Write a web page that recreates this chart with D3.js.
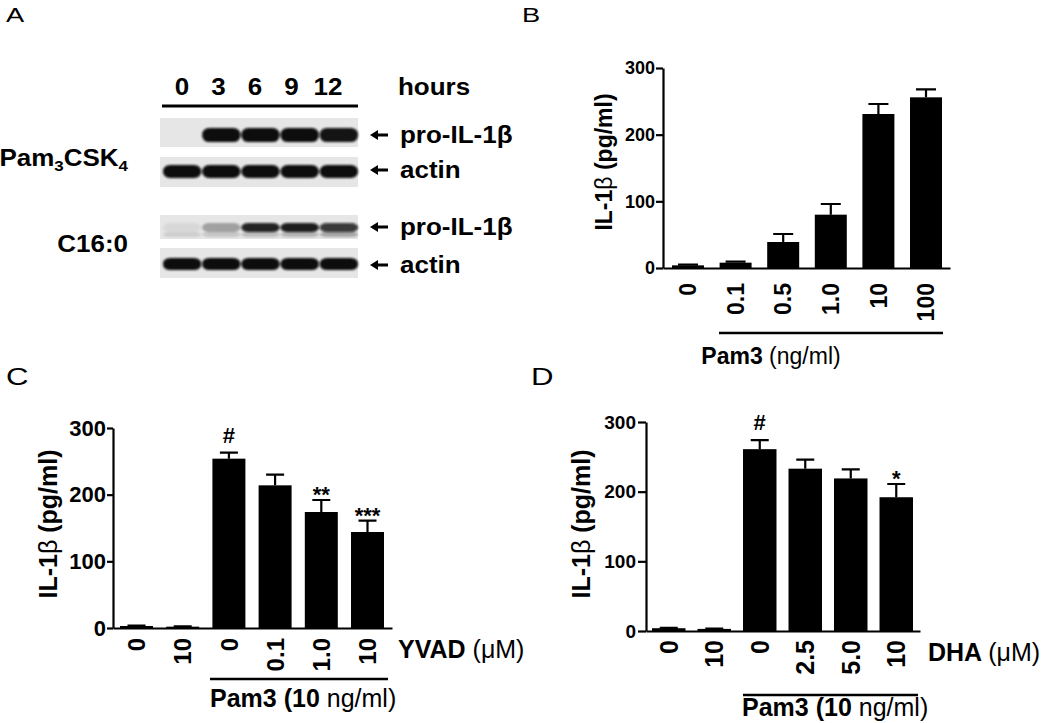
<!DOCTYPE html>
<html>
<head>
<meta charset="utf-8">
<script src="https://cdn.jsdelivr.net/npm/d3@7"></script>
<style>
  html, body { margin: 0; padding: 0; background: #fff; }
  svg { display: block; font-family: "Liberation Sans", Arial, sans-serif; }
  .axis path, .axis line { stroke: #000; stroke-width: 2.2; }
  .axis text { fill: #000; font-weight: bold; }
</style>
</head>
<body>
<svg id="fig" width="1050" height="723"></svg>
<script>
// ---------------- DATA ----------------
// Panel A: western blot lanes and relative band intensities (0..1)
const laneLabels = ["0", "3", "6", "9", "12"];
const proPam   = [0.0, 1.0, 1.0, 1.0, 0.97];
const actinPam = [1.0, 1.0, 1.0, 1.0, 1.0];
const proC16   = [0.06, 0.30, 0.90, 0.93, 0.80];
const proC16lower = [0.10, 0.14, 0.18, 0.22, 0.28];
const actinC16 = [1.0, 1.0, 1.0, 1.0, 1.0];

// Panel B
const catB = ["0", "0.1", "0.5", "1.0", "10", "100"];
const valB = [4, 8, 39, 80, 231, 256];
const errB = [1, 1.5, 12, 16, 15, 12];

// Panel C
const catC = ["0", "10", "0", "0.1", "1.0", "10"];
const valC = [3, 2, 254, 214, 174, 144];
const errC = [0.5, 0.5, 9, 16, 18, 17];
const sigC = ["", "", "#", "", "**", "***"];

// Panel D
const catD = ["0", "10", "0", "2.5", "5.0", "10"];
const valD = [4, 3, 261, 233, 219, 192];
const errD = [0.5, 0.5, 13, 13, 13, 19];
const sigD = ["", "", "#", "", "", "*"];

const yTicks = [0, 100, 200, 300];

// ---------------- DRAW ----------------
const svg = d3.select("#fig");
const defs = svg.append("defs");
defs.append("filter").attr("id", "blur").attr("x", "-10%").attr("y", "-50%")
  .attr("width", "120%").attr("height", "200%")
  .append("feGaussianBlur").attr("stdDeviation", 1.3);

// horizontally stretched text helper (reference lettering is wide)
function wideText(parent, x, y, size, sx) {
  return parent.append("g").attr("transform", `translate(${x},${y}) scale(${sx},1)`)
    .append("text").attr("font-size", size);
}

// panel letters
[["A", 6, 22, 21], ["B", 522, 22, 21], ["C", 6, 385, 24], ["D", 531, 385, 24]]
  .forEach(([t, x, y, s]) => wideText(svg, x, y, s, 1.3).text(t));

// ---------- Panel A ----------
const gA = svg.append("g");
const laneX = d3.scaleBand().domain(d3.range(laneLabels.length)).range([162, 358]);
const labelX = d3.scalePoint().domain(laneLabels).range([182, 328]);
const SX = 1.13;

laneLabels.forEach(d => wideText(gA, labelX(d), 95, 23, SX)
  .attr("text-anchor", "middle").attr("font-weight", "bold").text(d));
wideText(gA, 398, 95, 23, SX).attr("font-weight", "bold").text("hours");
gA.append("line").attr("x1", 162).attr("x2", 358).attr("y1", 106).attr("y2", 106)
  .attr("stroke", "#000").attr("stroke-width", 3);

const strips = [
  { y0: 118, y1: 147, bands: [{ vals: proPam, cy: 135, h: 14 }], label: "pro-IL-1β", ly: 135 },
  { y0: 157, y1: 187, bands: [{ vals: actinPam, cy: 171.5, h: 13 }], label: "actin", ly: 170 },
  { y0: 215, y1: 239, bands: [{ vals: proC16, cy: 227.5, h: 9 }, { vals: proC16lower, cy: 234.5, h: 5 }], label: "pro-IL-1β", ly: 227 },
  { y0: 248, y1: 278, bands: [{ vals: actinC16, cy: 264, h: 12 }], label: "actin", ly: 265 }
];
strips.forEach(s => {
  gA.append("rect").attr("x", 160).attr("y", s.y0).attr("width", 198)
    .attr("height", s.y1 - s.y0).attr("fill", "#e6e6e6");
  const gb = gA.append("g").attr("filter", "url(#blur)");
  s.bands.forEach(b => {
    gb.selectAll(null).data(b.vals).join("rect")
      .attr("x", (d, i) => laneX(i) + 1)
      .attr("width", laneX.bandwidth() - 1)
      .attr("y", b.cy - b.h / 2).attr("height", b.h)
      .attr("rx", 7).attr("ry", b.h / 2.2)
      .attr("fill", "#0a0a0a").attr("fill-opacity", d => d);
  });
  // arrow
  const ay = s.ly;
  gA.append("path")
    .attr("d", `M370,${ay} L378,${ay - 5} L378,${ay - 1.6} L388,${ay - 1.6} L388,${ay + 1.6} L378,${ay + 1.6} L378,${ay + 5} Z`)
    .attr("fill", "#000");
  wideText(gA, 400, ay, 23, SX).attr("dy", "0.33em")
    .attr("font-weight", "bold").text(s.label);
});

// row labels
const pamT = wideText(gA, 128, 166, 23, SX).attr("text-anchor", "end").attr("font-weight", "bold");
pamT.append("tspan").text("Pam");
pamT.append("tspan").attr("font-size", 15).attr("dy", 5).text("3");
pamT.append("tspan").attr("dy", -5).text("CSK");
pamT.append("tspan").attr("font-size", 15).attr("dy", 5).text("4");
wideText(gA, 128, 252, 23, SX).attr("text-anchor", "end").attr("font-weight", "bold").text("C16:0");

// ---------- Bar panels ----------
function barPanel(o) {
  const g = svg.append("g");
  const x = d3.scaleBand().domain(d3.range(o.cats.length))
    .range([o.barL, o.barR]).paddingInner(o.pad).paddingOuter(0);
  const y = d3.scaleLinear().domain([0, 300]).range([o.y0, o.y1]);

  // bars
  g.selectAll("rect.bar").data(o.vals).join("rect")
    .attr("x", (d, i) => x(i)).attr("width", x.bandwidth())
    .attr("y", d => y(d)).attr("height", d => y(0) - y(d))
    .attr("fill", "#000");
  // error bars
  const cw = o.cap;
  g.selectAll("path.err").data(o.vals).join("path")
    .attr("d", (d, i) => {
      const cx = x(i) + x.bandwidth() / 2, ye = y(d + o.errs[i]);
      return `M${cx},${y(d)}V${ye}M${cx - cw / 2},${ye}H${cx + cw / 2}`;
    })
    .attr("stroke", "#000").attr("stroke-width", 2.2).attr("fill", "none");

  // y axis
  g.append("g").attr("class", "axis").attr("transform", `translate(${o.axL},0)`)
    .call(d3.axisLeft(y).tickValues(yTicks).tickSize(o.tick).tickPadding(o.tickPad).tickSizeOuter(0))
    .call(a => a.selectAll("text").attr("font-size", o.yFont));
  // x axis line
  g.append("g").attr("class", "axis").attr("transform", `translate(0,${y(0)})`)
    .call(d3.axisBottom(d3.scaleLinear().range([o.axL, o.axR])).ticks(0).tickSizeOuter(0));

  // x tick labels (rotated)
  g.selectAll("text.xt").data(o.cats).join("text")
    .attr("transform", (d, i) => `translate(${x(i) + x.bandwidth() / 2},${o.xTop}) rotate(-90)`)
    .attr("text-anchor", "end").attr("dy", "0.36em")
    .attr("font-size", o.xFont).attr("font-weight", "bold").text(d => d);

  // significance marks
  if (o.sig) {
    g.selectAll("text.sig").data(o.sig).join("text")
      .attr("x", (d, i) => x(i) + x.bandwidth() / 2)
      .attr("y", (d, i) => y(o.vals[i] + o.errs[i]) + (d.startsWith("#") ? -10 : 2))
      .attr("text-anchor", "middle").attr("font-size", 22).attr("font-weight", "bold")
      .text(d => d);
  }

  // y label
  const yl = g.append("text")
    .attr("transform", `translate(${o.ylX},${o.ylY}) rotate(-90)`)
    .attr("text-anchor", "middle").attr("dy", "0.35em")
    .attr("font-size", o.ylFont).attr("font-weight", "bold");
  yl.append("tspan").text("IL-1");
  yl.append("tspan").attr("font-weight", "normal").text("β");
  yl.append("tspan").text(" (pg/ml)");

  // group underline & label
  g.append("line").attr("x1", o.ulL).attr("x2", o.ulR).attr("y1", o.ulY).attr("y2", o.ulY)
    .attr("stroke", "#000").attr("stroke-width", 2.6);
  const gt = g.append("text").attr("x", o.gtX).attr("y", o.gtY)
    .attr("text-anchor", o.gtAnchor).attr("font-size", o.gtFont);
  gt.append("tspan").attr("font-weight", "bold").text(o.gtBold);
  gt.append("tspan").text(o.gtReg);

  if (o.side) {
    const st = g.append("text").attr("x", o.sideX).attr("y", o.sideY).attr("font-size", o.gtFont);
    st.append("tspan").attr("font-weight", "bold").text(o.side[0]);
    st.append("tspan").text(o.side[1]);
  }
}

barPanel({
  cats: catB, vals: valB, errs: errB,
  barL: 672, barR: 942, pad: 0.328, y0: 268, y1: 68, axL: 663, axR: 950,
  cap: 20, tick: 7, tickPad: 1, yFont: 18, xFont: 23, xTop: 283,
  ylX: 604, ylY: 162, ylFont: 23,
  ulL: 719, ulR: 943, ulY: 333,
  gtX: 771, gtY: 364, gtAnchor: "middle", gtFont: 23, gtBold: "Pam3 ", gtReg: "(ng/ml)"
});

barPanel({
  cats: catC, vals: valC, errs: errC, sig: sigC,
  barL: 120, barR: 384, pad: 0.286, y0: 628, y1: 428, axL: 113, axR: 392,
  cap: 18, tick: 6, tickPad: 1, yFont: 22, xFont: 24, xTop: 638,
  ylX: 48, ylY: 524, ylFont: 25,
  ulL: 210, ulR: 388, ulY: 679,
  gtX: 210, gtY: 707, gtAnchor: "start", gtFont: 25, gtBold: "Pam3 (10 ", gtReg: "ng/ml)",
  side: ["YVAD ", "(μM)"], sideX: 398, sideY: 658
});

barPanel({
  cats: catD, vals: valD, errs: errD, sig: sigD,
  barL: 652, barR: 913, pad: 0.264, y0: 631, y1: 422, axL: 646, axR: 920,
  cap: 18, tick: 8, tickPad: 2, yFont: 19, xFont: 25, xTop: 640,
  ylX: 581, ylY: 524, ylFont: 25,
  ulL: 743, ulR: 918, ulY: 695,
  gtX: 742, gtY: 716, gtAnchor: "start", gtFont: 25, gtBold: "Pam3 (10 ", gtReg: "ng/ml)",
  side: ["DHA ", "(μM)"], sideX: 928, sideY: 661
});
</script>
</body>
</html>
